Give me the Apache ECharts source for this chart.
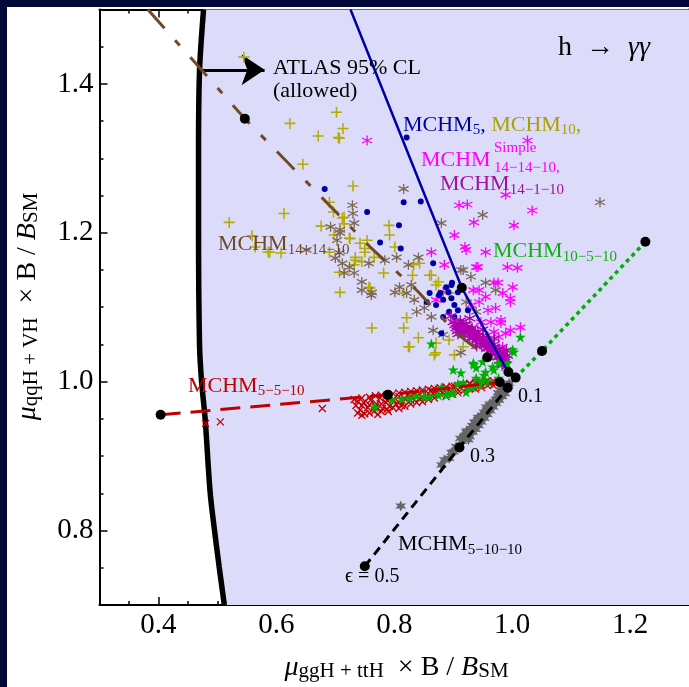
<!DOCTYPE html>
<html>
<head>
<meta charset="utf-8">
<script src="https://cdn.jsdelivr.net/npm/echarts@6/dist/echarts.min.js"></script>
<style>
html, body { margin: 0; padding: 0; background: #000838; width: 689px; height: 687px; overflow: hidden; }
#chart { position: absolute; left: 7px; top: 7px; width: 682px; height: 680px; background: #fff; }
</style>
</head>
<body>
<div id="chart"></div>
<script>
// axis ranges and ticks
const xRange = [0.3, 1.3]
const yRange = [0.7, 1.5]
const xMajor = [0.4, 0.6, 0.8, 1.0, 1.2]
const yMajor = [0.8, 1.0, 1.2, 1.4]

// ATLAS 95% CL contour (allowed side is to the right)
const atlasBoundary = [[0.4765, 1.5], [0.4697, 1.418], [0.468, 1.311], [0.468, 1.201], [0.4697, 1.049], [0.4731, 1.001],
  [0.4793, 0.949], [0.4877, 0.851], [0.4950, 0.801], [0.5029, 0.752], [0.5118, 0.7]]
const allowedCorners = [[1.3, 0.7], [1.3, 1.5]]
const atlasArrow = [[0.4697, 1.419], [0.58, 1.419]]

// model lines (epsilon scans)
const lineMCHM5 = [[0.7258, 1.5], [0.9146, 1.1262], [0.972, 1.043], [0.993, 1.013]]
const lineMCHM14_14_10 = [[0.382, 1.5], [0.5465, 1.3534], [0.7588, 1.1812], [0.8406, 1.1208], [0.905, 1.0654], [0.958, 1.033]]
const lineMCHM5_5_10 = [[0.4037, 0.9555], [0.789, 0.9823], [0.979, 0.9993]]
const lineMCHM10_5_10 = [[1.0059, 1.0055], [1.0507, 1.0413], [1.226, 1.188]]
const lineMCHM5_10_10 = [[0.75, 0.752], [0.9106, 0.9116], [0.9924, 0.992]]
const epsilonDots = [[0.5465, 1.3534], [0.4037, 0.9555], [0.789, 0.9823], [0.75, 0.752], [0.9106, 0.9116], [1.0507, 1.0413],
  [1.226, 1.188], [0.9146, 1.1262], [0.958, 1.0328], [0.9936, 1.0131], [1.0059, 1.0055], [0.979, 0.9993], [0.9924, 0.992]]

// scan points
const ptsMCHM10 = [[0.545, 1.436], [0.702, 1.362], [0.623, 1.347], [0.671, 1.330], [0.705, 1.328], [0.645, 1.292], [0.713, 1.340],
  [0.707, 1.327], [0.730, 1.263], [0.690, 1.241], [0.697, 1.228], [0.613, 1.226], [0.520, 1.214], [0.676, 1.209], [0.715, 1.221],
  [0.715, 1.212], [0.559, 1.196], [0.698, 1.197], [0.724, 1.193], [0.742, 1.186], [0.754, 1.190], [0.589, 1.174], [0.608, 1.173],
  [0.690, 1.174], [0.734, 1.167], [0.750, 1.174], [0.732, 1.157], [0.707, 1.147], [0.757, 1.127], [0.708, 1.120], [0.762, 1.072],
  [0.712, 1.220], [0.791, 1.210], [0.792, 1.197], [0.801, 1.181], [0.750, 1.179], [0.725, 1.192], [0.734, 1.163], [0.745, 1.161],
  [0.766, 1.167], [0.843, 1.159], [0.863, 1.143], [0.831, 1.143], [0.782, 1.146], [0.715, 1.146], [0.759, 1.126], [0.871, 1.130],
  [0.893, 1.119], [0.833, 1.157], [0.860, 1.143], [0.875, 1.134], [0.816, 1.119], [0.821, 1.086], [0.841, 1.059], [0.826, 1.047],
  [0.871, 1.052], [0.868, 1.036], [0.902, 1.036], [0.816, 1.072], [0.824, 1.047], [0.870, 1.039], [0.893, 1.056], [0.917, 1.047],
  [0.564, 1.181], [0.586, 1.174]]
const ptsMCHM14_14_10 = [[0.729, 1.237], [0.730, 1.226], [0.732, 1.213], [0.692, 1.208], [0.708, 1.200], [0.703, 1.190], [0.651, 1.177],
  [0.700, 1.166], [0.712, 1.159], [0.724, 1.154], [0.715, 1.146], [0.745, 1.134], [0.757, 1.159], [0.761, 1.116], [0.816, 1.259],
  [0.708, 1.204], [0.707, 1.173], [0.732, 1.146], [0.745, 1.123], [0.762, 1.120], [0.784, 1.163], [0.804, 1.167], [0.824, 1.157],
  [0.841, 1.167], [0.801, 1.120], [0.829, 1.130], [0.880, 1.213], [0.950, 1.224], [0.917, 1.150], [0.930, 1.141], [1.149, 1.241],
  [0.809, 1.127], [0.821, 1.119], [0.834, 1.110], [0.851, 1.099], [0.863, 1.087], [0.838, 1.094], [0.866, 1.069], [0.883, 1.063],
  [0.913, 1.150], [0.922, 1.107], [0.939, 1.094], [0.913, 1.039], [0.972, 1.123], [0.955, 1.133]]
const ptsMCHM5 = [[0.821, 1.328], [0.816, 1.241], [0.845, 1.242], [0.754, 1.228], [0.808, 1.210], [0.776, 1.187], [0.811, 1.179],
  [0.866, 1.159], [0.898, 1.133], [0.888, 1.127], [0.878, 1.119], [0.682, 1.259], [0.897, 1.130], [0.892, 1.120], [0.876, 1.116],
  [0.860, 1.119], [0.855, 1.107], [0.883, 1.110], [0.897, 1.112], [0.902, 1.103], [0.893, 1.094], [0.908, 1.096], [0.883, 1.087],
  [0.902, 1.087], [0.913, 1.080], [0.905, 1.073], [0.918, 1.069], [0.930, 1.072], [0.939, 1.059], [0.925, 1.096], [0.908, 1.120],
  [0.871, 1.103], [0.880, 1.065]]
const ptsSimple14_14_10 = [[0.754, 1.324], [1.026, 1.324], [0.910, 1.237], [0.924, 1.238], [1.034, 1.230], [0.935, 1.214], [1.003, 1.210],
  [0.902, 1.197], [0.920, 1.181], [0.863, 1.174], [0.942, 1.154], [0.992, 1.154], [1.009, 1.153], [1.001, 1.127], [0.997, 1.112],
  [0.976, 1.133], [0.981, 1.083], [0.997, 1.069], [1.014, 1.073], [0.885, 1.157], [0.922, 1.177], [0.939, 1.154], [0.969, 1.133],
  [0.984, 1.119], [0.997, 1.107], [0.972, 1.099], [0.959, 1.096], [0.944, 1.107], [0.934, 1.123], [0.944, 1.123], [0.964, 1.080],
  [0.981, 1.079], [0.989, 1.065], [0.977, 1.060], [0.969, 1.067], [0.947, 1.080], [0.984, 1.047], [0.930, 1.103], [0.955, 1.114],
  [0.883, 1.120], [0.871, 1.110], [0.989, 1.251], [0.955, 1.174]]
const ptsMCHM14_1_10 = [[0.900, 1.080], [0.905, 1.072], [0.908, 1.064], [0.912, 1.082], [0.915, 1.072], [0.918, 1.063],
  [0.922, 1.077], [0.925, 1.068], [0.928, 1.058], [0.932, 1.072], [0.935, 1.062], [0.938, 1.054], [0.942, 1.067], [0.945, 1.057],
  [0.948, 1.049], [0.951, 1.062], [0.954, 1.052], [0.957, 1.044], [0.960, 1.057], [0.963, 1.047], [0.966, 1.039], [0.969, 1.050],
  [0.972, 1.041], [0.975, 1.033], [0.978, 1.044], [0.981, 1.035], [0.984, 1.028], [0.986, 1.038], [0.989, 1.030], [0.983, 1.022],
  [0.896, 1.088], [0.928, 1.085], [0.950, 1.070], [0.970, 1.058], [0.990, 1.042], [0.940, 1.048],
  [0.903, 1.076], [0.907, 1.068], [0.910, 1.078], [0.913, 1.067], [0.917, 1.076], [0.920, 1.066], [0.923, 1.073], [0.927, 1.063],
  [0.930, 1.069], [0.933, 1.059], [0.937, 1.066], [0.940, 1.057], [0.943, 1.062], [0.947, 1.053], [0.950, 1.058], [0.953, 1.048],
  [0.956, 1.055], [0.959, 1.046], [0.962, 1.052], [0.965, 1.043], [0.968, 1.046], [0.971, 1.037], [0.974, 1.042], [0.977, 1.033],
  [0.980, 1.039], [0.983, 1.031], [0.987, 1.033], [0.985, 1.024], [0.992, 1.035], [0.979, 1.028]]
const ptsMCHM10_5_10 = [[0.863, 1.051], [0.900, 1.016], [0.913, 1.012], [0.934, 1.025], [0.939, 1.019], [0.950, 1.027], [0.955, 1.013],
  [0.967, 1.020], [0.977, 1.025], [0.992, 1.025], [1.003, 1.040], [1.014, 1.060], [0.767, 0.966], [0.826, 0.978], [0.851, 0.980],
  [0.900, 0.985], [0.927, 0.992], [0.944, 0.996], [0.961, 1.000], [0.922, 0.986], [0.888, 0.982], [0.875, 0.982], [1.001, 1.043],
  [0.935, 1.023], [0.952, 1.009], [0.939, 1.005], [0.969, 1.016], [0.860, 0.980], [0.917, 0.998], [0.934, 0.993], [0.897, 0.985],
  [0.838, 0.981], [0.796, 0.976], [0.813, 0.977], [0.880, 0.992], [0.908, 0.997], [0.950, 1.002], [0.977, 1.005]]
const ptsMCHM5_5_10 = [[0.735, 0.968], [0.742, 0.962], [0.748, 0.972], [0.755, 0.965], [0.760, 0.975], [0.766, 0.960], [0.770, 0.970],
  [0.776, 0.978], [0.780, 0.964], [0.786, 0.972], [0.792, 0.967], [0.798, 0.976], [0.803, 0.970], [0.808, 0.980], [0.815, 0.973],
  [0.822, 0.982], [0.828, 0.975], [0.835, 0.984], [0.842, 0.977], [0.848, 0.986], [0.855, 0.980], [0.862, 0.988], [0.868, 0.982],
  [0.875, 0.990], [0.882, 0.985], [0.888, 0.992], [0.895, 0.987], [0.902, 0.994], [0.908, 0.989], [0.915, 0.996], [0.922, 0.991],
  [0.928, 0.997], [0.935, 0.993], [0.942, 0.999], [0.948, 0.995], [0.955, 1.000], [0.962, 0.997], [0.968, 1.001], [0.975, 0.999],
  [0.750, 0.957], [0.772, 0.956], [0.790, 0.960], [0.812, 0.968], [0.838, 0.972], [0.480, 0.944], [0.505, 0.946], [0.678, 0.964],
  [0.732, 0.976],
  [0.738, 0.974], [0.738, 0.958], [0.745, 0.978], [0.745, 0.968], [0.745, 0.955], [0.758, 0.979], [0.758, 0.969], [0.758, 0.958],
  [0.768, 0.981], [0.768, 0.966], [0.778, 0.982], [0.778, 0.970], [0.778, 0.960], [0.788, 0.982], [0.788, 0.975], [0.788, 0.963],
  [0.798, 0.984], [0.798, 0.965], [0.808, 0.985], [0.808, 0.972], [0.808, 0.964], [0.818, 0.986], [0.818, 0.977], [0.818, 0.967],
  [0.828, 0.987], [0.828, 0.981], [0.828, 0.970], [0.838, 0.988], [0.838, 0.980], [0.848, 0.989], [0.848, 0.979], [0.848, 0.973],
  [0.858, 0.990], [0.858, 0.984], [0.858, 0.976], [0.868, 0.991], [0.868, 0.986], [0.868, 0.978], [0.878, 0.992], [0.878, 0.983],
  [0.888, 0.993], [0.888, 0.986], [0.888, 0.980], [0.898, 0.994], [0.898, 0.989], [0.898, 0.983], [0.908, 0.995], [0.908, 0.985],
  [0.918, 0.996], [0.918, 0.988], [0.928, 0.998], [0.928, 0.991], [0.938, 0.999], [0.938, 0.990], [0.948, 1.000], [0.948, 0.992],
  [0.958, 1.001], [0.958, 0.995], [0.968, 0.995]]
const ptsMCHM5_10_10 = [[0.915, 0.920], [0.920, 0.928], [0.925, 0.930], [0.930, 0.937], [0.935, 0.940], [0.940, 0.946], [0.945, 0.950],
  [0.950, 0.955], [0.955, 0.958], [0.960, 0.964], [0.965, 0.968], [0.970, 0.973], [0.975, 0.977], [0.980, 0.982], [0.985, 0.986],
  [0.990, 0.991], [0.993, 0.995], [0.928, 0.926], [0.938, 0.936], [0.948, 0.946], [0.958, 0.956], [0.968, 0.966], [0.978, 0.975],
  [0.988, 0.984], [0.922, 0.932], [0.942, 0.952], [0.962, 0.970], [0.982, 0.989], [0.811, 0.833], [0.880, 0.888], [0.885, 0.895],
  [0.905, 0.913], [0.912, 0.924],
  [0.918, 0.926], [0.923, 0.934], [0.927, 0.933], [0.932, 0.941], [0.937, 0.944], [0.942, 0.949], [0.947, 0.953], [0.952, 0.959],
  [0.957, 0.962], [0.962, 0.967], [0.967, 0.971], [0.972, 0.976], [0.977, 0.980], [0.982, 0.984], [0.987, 0.989], [0.991, 0.994],
  [0.995, 0.998], [0.933, 0.932], [0.943, 0.941], [0.953, 0.951], [0.963, 0.961], [0.973, 0.971], [0.983, 0.980], [0.926, 0.922],
  [0.936, 0.946], [0.956, 0.966], [0.976, 0.985], [0.897, 0.905], [0.901, 0.906], [0.893, 0.897]]

const SERIF = '"Liberation Serif", "Times New Roman", "DejaVu Serif", serif'
const PLUS = 'path://M4.3,0H5.7V4.3H10V5.7H5.7V10H4.3V5.7H0V4.3H4.3Z'
const ASTER = 'path://M5,0L5,10M0.67,2.5L9.33,7.5M0.67,7.5L9.33,2.5'
const CROSS = 'path://M0,0L10,10M0,10L10,0'
const STAR5 = 'path://M5,0L6.2,3.6L10,3.6L6.9,5.9L8.1,9.5L5,7.3L1.9,9.5L3.1,5.9L0,3.6L3.8,3.6Z'
const STAR6 = 'path://M5,0L6.2,2.9L9.33,2.5L7.4,5L9.33,7.5L6.2,7.1L5,10L3.8,7.1L0.67,7.5L2.6,5L0.67,2.5L3.8,2.9Z'

const chart = echarts.init(document.getElementById('chart'), null, { renderer: 'canvas' })

function majorAxis(pos, values, showLabel) {
  const isX = pos === 'top' || pos === 'bottom'
  return {
    type: 'value', position: pos, min: isX ? xRange[0] : yRange[0], max: isX ? xRange[1] : yRange[1],
    axisLine: { show: true, onZero: false, lineStyle: { color: '#000', width: 2 } },
    axisTick: { show: true, inside: true, length: 8, customValues: values, lineStyle: { color: '#000', width: 1.5 } },
    axisLabel: {
      show: showLabel, customValues: values, formatter: v => v.toFixed(1), margin: 6,
      color: '#000', fontSize: 29, fontFamily: SERIF
    },
    splitLine: { show: false }
  }
}
function minorAxis(pos) {
  const isX = pos === 'top' || pos === 'bottom'
  return {
    type: 'value', position: pos, min: isX ? xRange[0] : yRange[0], max: isX ? xRange[1] : yRange[1], interval: 0.05,
    axisLine: { show: false, onZero: false },
    axisTick: { show: true, inside: true, length: 4, lineStyle: { color: '#000', width: 1.5 } },
    axisLabel: { show: false },
    splitLine: { show: false }
  }
}

function rich(color, fs, sfs, drop) {
  return {
    m: { fill: color, fontSize: fs, fontFamily: SERIF, lineHeight: fs + 2, verticalAlign: 'top' },
    s: { fill: color, fontSize: sfs, fontFamily: SERIF, lineHeight: sfs + 1, verticalAlign: 'top', padding: [drop, 0, 0, 0] }
  }
}
// text placed by left edge and centre line of the main letters (page pixels)
function label(text, richStyle, x, cy, fs) {
  return {
    type: 'text', x: x - 7, y: cy - 7 - (fs + 2) / 2, z: 100,
    style: { text: text, rich: richStyle, align: 'left', verticalAlign: 'top' }
  }
}
function plain(text, color, fs, x, cy) {
  return {
    type: 'text', x: x - 7, y: cy - 7, z: 100,
    style: { text: text, fill: color, fontSize: fs, fontFamily: SERIF, align: 'left', verticalAlign: 'middle' }
  }
}

const blueRich = rich('#0000a0', 22, 15, 9)
const oliveRich = rich('#aaa200', 22, 15, 9)
const mixRich = { m: blueRich.m, s: blueRich.s, o: oliveRich.m, os: oliveRich.s }

const titleRich = {
  i: { fill: '#000', fontSize: 28, fontFamily: SERIF, fontStyle: 'italic', lineHeight: 30, verticalAlign: 'top' },
  m: { fill: '#000', fontSize: 28, fontFamily: SERIF, lineHeight: 30, verticalAlign: 'top' },
  s: { fill: '#000', fontSize: 21, fontFamily: SERIF, lineHeight: 22, verticalAlign: 'top', padding: [7.5, 0, 0, 0] }
}

const graphics = [
  // axis titles
  {
    type: 'text', x: 396.5 - 7, y: 653.5 - 7, z: 100,
    style: { text: '{i|μ}{s|ggH + ttH}{m|  × B / }{i|B}{s|SM}', rich: titleRich, align: 'center', verticalAlign: 'top' }
  },
  {
    type: 'text', x: 13.5 - 7, y: 306.5 - 7, rotation: Math.PI / 2, z: 100,
    style: { text: '{i|μ}{s|qqH + VH}{m|  × B / }{i|B}{s|SM}', rich: titleRich, align: 'center', verticalAlign: 'top' }
  },
  label('{m|h  →  }{i|γγ}', {
    m: { fill: '#000', fontSize: 28, fontFamily: SERIF, lineHeight: 30, verticalAlign: 'top' },
    i: { fill: '#000', fontSize: 28, fontFamily: SERIF, fontStyle: 'italic', lineHeight: 30, verticalAlign: 'top' }
  }, 558, 48.5, 28),
  plain('ATLAS 95% CL', '#000', 22, 273, 68),
  plain('(allowed)', '#000', 22, 273, 91),
  label('{m|MCHM}{s|5}{m|, }{o|MCHM}{os|10}{o|,}', mixRich, 403, 126, 22),
  plain('MCHM', '#ff00ff', 22, 421, 160),
  plain('Simple', '#ff00ff', 15, 494, 148),
  plain('14−14−10,', '#ff00ff', 15, 494, 168),
  label('{m|MCHM}{s|14−1−10}', rich('#a0129c', 22, 15, 9), 440, 185.5, 22),
  label('{m|MCHM}{s|10−5−10}', rich('#10b010', 22, 15, 9), 493, 252.5, 22),
  label('{m|MCHM}{s|14−14−10}', rich('#6b4a2a', 22, 15, 9), 218, 245.5, 22),
  label('{m|MCHM}{s|5−5−10}', rich('#c00000', 22, 15, 9), 188, 387, 22),
  label('{m|MCHM}{s|5−10−10}', rich('#000000', 22, 15, 9), 398, 545.5, 22),
  plain('0.1', '#000', 20, 518, 397),
  plain('0.3', '#000', 20, 470, 457),
  plain('ϵ = 0.5', '#000', 20, 345, 577)
]

function scatter(name, data, symbol, size, fill, stroke, z) {
  return {
    name: name, type: 'scatter', data: data, symbol: symbol, symbolSize: size, z: z, silent: true,
    itemStyle: stroke ? { color: 'rgba(0,0,0,0)', borderColor: stroke, borderWidth: 1.3, opacity: 1 } : { color: fill, opacity: 1 }
  }
}
function curve(name, data, color, width, type, z) {
  return {
    name: name, type: 'line', data: data, symbol: 'none', z: z, silent: true,
    lineStyle: { color: color, width: width, type: type, cap: 'butt' }
  }
}

const option = {
  animation: false,
  backgroundColor: '#ffffff',
  grid: { left: 92.5, top: 2.5, right: -6, bottom: 82, containLabel: false },
  xAxis: [majorAxis('bottom', xMajor, true), minorAxis('bottom'), majorAxis('top', xMajor, false), minorAxis('top')],
  yAxis: [majorAxis('left', yMajor, true), minorAxis('left'), majorAxis('right', yMajor, false), minorAxis('right')],
  graphic: graphics,
  series: [
    {
      name: 'allowed', type: 'custom', z: 1, silent: true, data: [0],
      renderItem: (params, api) => ({
        type: 'polygon',
        shape: { points: atlasBoundary.concat(allowedCorners).map(p => api.coord(p)) },
        style: { fill: '#dcdcfa' }
      })
    },
    Object.assign(curve('ATLAS', atlasBoundary, '#000', 5.5, 'solid', 3), { smooth: 0.3 }),
    {
      name: 'arrow', type: 'lines', coordinateSystem: 'cartesian2d', z: 4, silent: true,
      symbol: ['none', 'arrow'], symbolSize: [11, 23],
      lineStyle: { color: '#000', width: 3, opacity: 1, curveness: 0 },
      data: [{ coords: atlasArrow }]
    },
    scatter('MCHM14-14-10 simple', ptsSimple14_14_10, ASTER, 10, null, '#ff00ff', 5),
    scatter('MCHM10', ptsMCHM10, PLUS, 11, '#b4ac00', null, 5),
    scatter('MCHM14-14-10', ptsMCHM14_14_10, ASTER, 10, null, '#7d6652', 5),
    scatter('MCHM5', ptsMCHM5, 'circle', 6, '#0000a8', null, 5),
    scatter('MCHM14-1-10', ptsMCHM14_1_10, ASTER, 11, null, '#b000b0', 5),
    scatter('MCHM5-5-10', ptsMCHM5_5_10, CROSS, 7, null, '#c00000', 5),
    scatter('MCHM10-5-10', ptsMCHM10_5_10, STAR5, 11, '#00b000', null, 5),
    scatter('MCHM5-10-10', ptsMCHM5_10_10, STAR6, 11, '#666666', null, 5),
    curve('MCHM5 line', lineMCHM5, '#0000a8', 2.5, 'solid', 6),
    curve('MCHM14-14-10 line', lineMCHM14_14_10, '#6e4b25', 3, [25, 16, 7, 16], 6),
    curve('MCHM5-5-10 line', lineMCHM5_5_10, '#c00000', 3, [20, 10], 6),
    curve('MCHM10-5-10 line', lineMCHM10_5_10, '#00b000', 3.5, [4, 4], 6),
    curve('MCHM5-10-10 line', lineMCHM5_10_10, '#000000', 3, [9, 6], 6),
    scatter('epsilon', epsilonDots, 'circle', 10, '#000', null, 7)
  ]
}
chart.setOption(option)
</script>
</body>
</html>
